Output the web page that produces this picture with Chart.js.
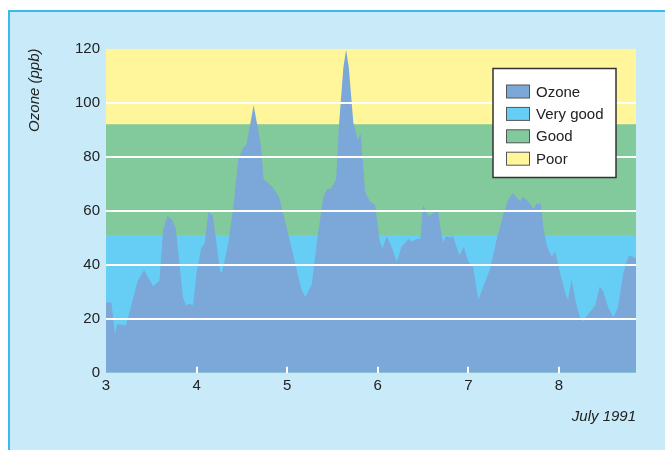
<!DOCTYPE html>
<html>
<head>
<meta charset="utf-8">
<script src="https://cdn.jsdelivr.net/npm/chart.js@4.4.1/dist/chart.umd.min.js"></script>
<style>
  html, body { margin: 0; padding: 0; background: #fff; }
  #wrap { position: relative; width: 665px; height: 450px; overflow: hidden; }
  #frame {
    position: absolute; left: 8px; top: 10px; width: 700px; height: 500px;
    background: #c8eaf9; border-left: 2px solid #3bb8ee; border-top: 2px solid #3bb8ee;
  }
  #c { position: absolute; left: 0; top: 0; }
</style>
</head>
<body>
<div id="wrap">
  <div id="frame"></div>
  <canvas id="c" width="665" height="450"></canvas>
</div>
<script>
// dias de julio 1991 (valor decimal) y ozono en ppb
const days = [3.0, 3.06, 3.10, 3.12, 3.22, 3.35, 3.42, 3.52, 3.59, 3.63,
  3.68, 3.73, 3.77, 3.85, 3.88, 3.93, 3.96, 4.00, 4.05, 4.09,
  4.13, 4.18, 4.26, 4.28, 4.35, 4.41, 4.46, 4.51, 4.55, 4.63,
  4.71, 4.74, 4.83, 4.91, 5.01, 5.16, 5.20, 5.27, 5.34, 5.40,
  5.44, 5.48, 5.54, 5.57, 5.62, 5.65, 5.68, 5.73, 5.78, 5.81,
  5.86, 5.91, 5.97, 6.02, 6.05, 6.10, 6.16, 6.21, 6.26, 6.34,
  6.38, 6.43, 6.47, 6.50, 6.56, 6.61, 6.66, 6.69, 6.72, 6.75,
  6.80, 6.83, 6.90, 6.95, 7.00, 7.05, 7.11, 7.24, 7.31, 7.38,
  7.44, 7.49, 7.53, 7.57, 7.60, 7.64, 7.68, 7.72, 7.75, 7.80,
  7.83, 7.87, 7.92, 7.96, 8.01, 8.07, 8.10, 8.14, 8.18, 8.23,
  8.27, 8.32, 8.40, 8.45, 8.49, 8.54, 8.60, 8.65, 8.71, 8.77,
  8.84, 8.85];
const ozone = [26, 26, 14, 18, 17.5, 34, 38, 32, 34, 53,
  58, 56.5, 53.5, 28, 25, 25.5, 25, 37, 46, 48,
  59.5, 58, 37.5, 37, 48, 62.5, 79, 83, 84.5, 99,
  84, 71.5, 69, 65, 51.5, 30.5, 28, 32.5, 51.5, 65,
  68, 68, 71.5, 91, 113, 119.5, 113, 92.5, 86, 88.5,
  67, 63.5, 62, 49, 46, 50.5, 46, 41, 46.5, 49.5,
  48.5, 49.5, 49.5, 62, 58, 59, 60.5, 54, 48, 50.5,
  50, 50.5, 43.5, 46.5, 41, 39.5, 27, 38.5, 49, 58,
  64, 66.5, 65, 63.5, 65, 64, 62.5, 60.5, 62.5, 62.5,
  53, 46.5, 43, 45, 37, 29.5, 27, 34.5, 27, 20.5,
  19, 21.5, 25, 32, 30, 24.5, 20.5, 24, 37, 43.5,
  42.5, 42.5];

// bandas de calidad del aire (limite superior de cada una)
const bandNames = ["Very good", "Good", "Poor"];
const bandLimits = [51, 92, 120];

const dayMin = 3;
const dayMax = 8.85;
const yTicks = [0, 20, 40, 60, 80, 100, 120];

const ozoneColor = "#7ba7d9";
const bandColors = ["#66cef5", "#82c99b", "#fff59a"];

Chart.defaults.font.family = '"Liberation Sans", Arial, sans-serif';
Chart.defaults.font.size = 15;
Chart.defaults.color = "#222";

const datasets = [
  {
    label: "Ozone",
    data: days.map((d, i) => ({ x: d, y: ozone[i] })),
    backgroundColor: ozoneColor,
    borderWidth: 0,
    pointRadius: 0,
    fill: "origin",
    order: 0,
  },
];
bandNames.forEach((name, i) => {
  datasets.push({
    label: name,
    data: [{ x: dayMin, y: bandLimits[i] }, { x: dayMax, y: bandLimits[i] }],
    backgroundColor: bandColors[i],
    borderWidth: 0,
    pointRadius: 0,
    fill: "origin",
    order: i + 1,
  });
});

// leyenda con recuadro blanco dentro del area del grafico
const boxLegend = {
  id: "boxLegend",
  afterDraw(chart) {
    const c = chart.ctx;
    const area = chart.chartArea;
    const w = 123, h = 109;
    const x0 = area.right - 20 - w;
    const y0 = area.top + 20;
    c.save();
    c.fillStyle = "#fff";
    c.fillRect(x0, y0, w, h);
    c.strokeStyle = "#333";
    c.lineWidth = 1.5;
    c.strokeRect(x0, y0, w, h);
    c.font = '15px "Liberation Sans", Arial, sans-serif';
    c.textBaseline = "middle";
    chart.data.datasets.forEach((ds, i) => {
      const yy = y0 + 23 + i * 22.4;
      c.fillStyle = ds.backgroundColor;
      c.fillRect(x0 + 13.5, yy - 6.5, 23, 13);
      c.strokeStyle = "#555";
      c.lineWidth = 1;
      c.strokeRect(x0 + 13.5, yy - 6.5, 23, 13);
      c.fillStyle = "#222";
      c.fillText(ds.label, x0 + 43, yy + 1);
    });
    c.restore();
  },
};

new Chart(document.getElementById("c"), {
  type: "line",
  data: { datasets: datasets },
  options: {
    responsive: false,
    animation: false,
    layout: { padding: { top: 48.5, right: 29, left: 0, bottom: 0 } },
    plugins: { legend: { display: false }, tooltip: { enabled: false } },
    scales: {
      x: {
        type: "linear",
        min: dayMin,
        max: dayMax,
        afterFit: (s) => { s.height = 77.3; },
        ticks: { stepSize: 1, includeBounds: false, padding: 10, color: "#222", z: 1 },
        grid: {
          z: 1,
          drawOnChartArea: false,
          drawTicks: true,
          tickLength: -6,
          lineWidth: 2,
          color: (ctx) => (ctx.tick && ctx.tick.value > dayMin ? "#fff" : "rgba(0,0,0,0)"),
        },
        border: { display: false },
        title: {
          display: true, text: "July 1991", align: "end",
          font: { style: "italic", size: 15 }, color: "#222",
          padding: { top: 0, bottom: 24 },
        },
      },
      y: {
        min: 0,
        max: 120,
        afterFit: (s) => { s.width = 106; },
        afterBuildTicks: (s) => { s.ticks = yTicks.map((v) => ({ value: v })); },
        ticks: { padding: 6, color: "#222", z: 1 },
        grid: {
          z: 1,
          drawTicks: false,
          lineWidth: 2,
          color: (ctx) => (ctx.tick && ctx.tick.value > 0 && ctx.tick.value < 120 ? "#fff" : "rgba(0,0,0,0)"),
        },
        border: { display: false },
        title: {
          display: true, text: "Ozone (ppb)", align: "end",
          font: { style: "italic", size: 15 }, color: "#222",
          padding: { top: 26, bottom: 0 },
        },
      },
    },
  },
  plugins: [boxLegend],
});
</script>
</body>
</html>
